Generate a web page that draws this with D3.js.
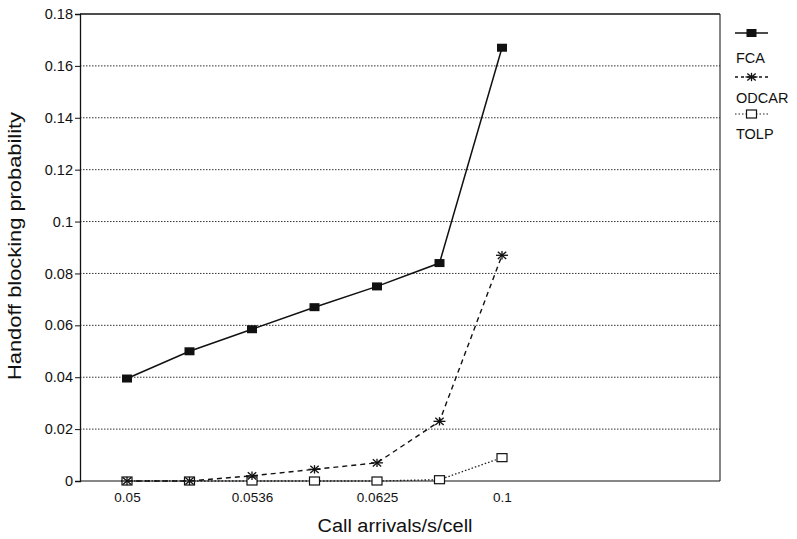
<!DOCTYPE html>
<html>
<head>
<meta charset="utf-8">
<script src="https://cdn.jsdelivr.net/npm/d3@7"></script>
<style>
  body { margin: 0; background: #fff; }
  svg text { font-family: "Liberation Sans", Arial, sans-serif; fill: #111; }
</style>
</head>
<body>
<div id="chart"></div>
<script>
let W = 797; // width
let H = 539; // height

// x categories (only every other one is labelled)
let xLabels = ['0.05', '', '0.0536', '', '0.0625', '', '0.1'];
let yTicks = [0, 0.02, 0.04, 0.06, 0.08, 0.1, 0.12, 0.14, 0.16, 0.18];
let yTickLabels = ['0', '0.02', '0.04', '0.06', '0.08', '0.1', '0.12', '0.14', '0.16', '0.18'];

// series values
let fca = [0.0395, 0.05, 0.0585, 0.067, 0.075, 0.084, 0.167];
let odcar = [0, 0, 0.002, 0.0045, 0.007, 0.023, 0.087];
let tolp = [0, 0, 0, 0, 0, 0.0005, 0.009];
let seriesNames = ['FCA', 'ODCAR', 'TOLP'];

let L = 80, T = 14, R = 720, B = 481; // plot frame

let svg = d3.select('#chart').append('svg').attr('width', W).attr('height', H);

// index scale: first point at 127, spacing ~62.5px, frame runs on to the right
let xScale = d3.scaleLinear().domain([-0.752, 9.488]).range([L, R]);
let yScale = d3.scaleLinear().domain([0, 0.18]).range([B, T]);

// dotted gridlines
svg.append('g').selectAll('line').data(yTicks.slice(1, -1)).enter().append('line')
    .attr('x1', L).attr('x2', R)
    .attr('y1', d => yScale(d)).attr('y2', d => yScale(d))
    .attr('stroke', '#333').attr('stroke-width', 1).attr('stroke-dasharray', '1.5,1.5');

// frame: solid top/left/bottom, right side
svg.append('line').attr('x1', L).attr('x2', R).attr('y1', T).attr('y2', T)
    .attr('stroke', '#111').attr('stroke-width', 1.3);
svg.append('line').attr('x1', R).attr('x2', R).attr('y1', T).attr('y2', B)
    .attr('stroke', '#222').attr('stroke-width', 1.1);
svg.append('line').attr('x1', L).attr('x2', R).attr('y1', B).attr('y2', B)
    .attr('stroke', '#111').attr('stroke-width', 1.2);

// y axis
let yAxis = d3.axisLeft(yScale).tickValues(yTicks)
    .tickFormat((d, i) => yTickLabels[i]).tickSize(5).tickPadding(2);
svg.append('g').attr('transform', `translate(${L},0)`).call(yAxis)
    .call(g => g.select('.domain').attr('stroke', '#111').attr('stroke-width', 1.3))
    .call(g => g.selectAll('.tick line').attr('stroke', '#111'))
    .call(g => g.selectAll('text').style('font-size', '14.5px').attr('fill', '#111'));

// x axis labels (no tick marks)
let xAxis = d3.axisBottom(xScale).tickValues(d3.range(xLabels.length))
    .tickFormat(i => xLabels[i]).tickSize(0).tickPadding(11);
svg.append('g').attr('transform', `translate(0,${B})`).call(xAxis)
    .call(g => g.select('.domain').remove())
    .call(g => g.selectAll('text').style('font-size', '13.5px').attr('fill', '#111'));

// axis titles
svg.append('text').text('Call arrivals/s/cell')
    .attr('x', 395).attr('y', 532).attr('text-anchor', 'middle')
    .attr('textLength', 155).attr('lengthAdjust', 'spacingAndGlyphs')
    .style('font-size', '18px');
svg.append('text').text('Handoff blocking probability')
    .attr('transform', 'rotate(-90)').attr('x', -246).attr('y', 21)
    .attr('text-anchor', 'middle')
    .attr('textLength', 268).attr('lengthAdjust', 'spacingAndGlyphs')
    .style('font-size', '18px');

let line = d3.line().x((d, i) => xScale(i)).y(d => yScale(d));

// draw an asterisk marker
function star(g, x, y) {
  let r = 6;
  [[-r, 0, r, 0], [-r * 0.7, -r * 0.6, r * 0.7, r * 0.6], [-r * 0.7, r * 0.6, r * 0.7, -r * 0.6], [0, -r * 0.7, 0, r * 0.7]]
    .forEach(s => g.append('line')
      .attr('x1', x + s[0]).attr('y1', y + s[1]).attr('x2', x + s[2]).attr('y2', y + s[3])
      .attr('stroke', '#111').attr('stroke-width', 1.3));
}

// TOLP
svg.append('path').datum(tolp).attr('d', line).attr('fill', 'none')
    .attr('stroke', '#222').attr('stroke-width', 1.3).attr('stroke-dasharray', '1.5,2');
svg.append('g').selectAll('rect').data(tolp).enter().append('rect')
    .attr('x', (d, i) => xScale(i) - 5).attr('y', d => yScale(d) - 4)
    .attr('width', 10).attr('height', 8)
    .attr('fill', '#fff').attr('stroke', '#111').attr('stroke-width', 1.2);

// ODCAR
svg.append('path').datum(odcar).attr('d', line).attr('fill', 'none')
    .attr('stroke', '#111').attr('stroke-width', 1.4).attr('stroke-dasharray', '5,4');
let og = svg.append('g');
odcar.forEach((d, i) => star(og, xScale(i), yScale(d)));

// FCA
svg.append('path').datum(fca).attr('d', line).attr('fill', 'none')
    .attr('stroke', '#111').attr('stroke-width', 1.5);
svg.append('g').selectAll('rect').data(fca).enter().append('rect')
    .attr('x', (d, i) => xScale(i) - 5).attr('y', d => yScale(d) - 4)
    .attr('width', 10).attr('height', 8).attr('fill', '#111');

// legend
let lx = 735, lw = 33;
let lg = svg.append('g');
lg.append('line').attr('x1', lx).attr('x2', lx + lw).attr('y1', 33).attr('y2', 33)
    .attr('stroke', '#111').attr('stroke-width', 1.5);
lg.append('rect').attr('x', lx + lw / 2 - 5).attr('y', 29).attr('width', 10).attr('height', 8).attr('fill', '#111');
lg.append('line').attr('x1', lx).attr('x2', lx + lw).attr('y1', 77).attr('y2', 77)
    .attr('stroke', '#111').attr('stroke-width', 1.3).attr('stroke-dasharray', '3,3');
star(lg, lx + lw / 2, 77);
lg.append('line').attr('x1', lx).attr('x2', lx + lw).attr('y1', 114).attr('y2', 114)
    .attr('stroke', '#222').attr('stroke-width', 1.2).attr('stroke-dasharray', '1.5,2');
lg.append('rect').attr('x', lx + lw / 2 - 5).attr('y', 110).attr('width', 10).attr('height', 8)
    .attr('fill', '#fff').attr('stroke', '#111').attr('stroke-width', 1.2);
lg.selectAll('text').data(seriesNames).enter().append('text')
    .text(d => d).attr('x', 736).attr('y', (d, i) => [63, 103, 139][i])
    .style('font-size', '14.5px');
</script>
</body>
</html>
